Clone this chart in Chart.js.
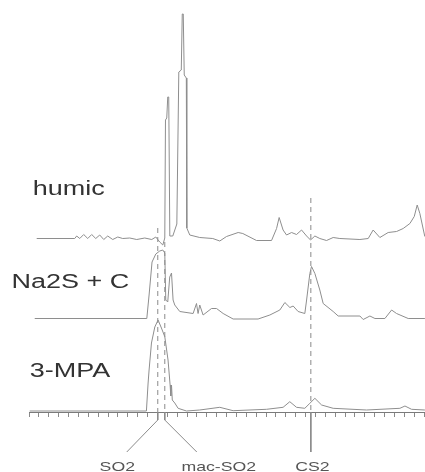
<!DOCTYPE html>
<html>
<head>
<meta charset="utf-8">
<script src="https://cdn.jsdelivr.net/npm/chart.js@4.4.1/dist/chart.umd.min.js"></script>
<style>
	html, body { margin: 0; padding: 0; background: #fff; }
	#wrap { width: 425px; height: 472px; position: relative; }
</style>
</head>
<body>
<div id="wrap"><canvas id="gcChart"></canvas></div>
<script>
// retention time (axis tick units) and signal above each trace's own baseline
const humicTime = [0.78, 4.63, 4.83, 5.14, 5.54, 5.95, 6.35, 6.76, 7.16, 7.57, 7.97, 8.48, 8.99, 9.49, 10.2, 10.91, 11.72, 12.43, 12.84, 13.24, 13.55, 13.75, 13.82, 13.95, 14.05, 14.15, 14.26, 14.56, 14.97, 15.17, 15.42, 15.52, 15.62, 15.72, 15.93, 15.98, 16.28, 17.29, 18.61, 19.32, 20.0, 21.18, 21.65, 23.04, 24.56, 25.07, 25.33, 25.73, 26.08, 26.59, 27.09, 27.6, 28.11, 28.51, 28.95, 29.45, 30.13, 30.8, 31.48, 33.51, 34.35, 34.85, 35.53, 36.37, 37.22, 37.89, 38.57, 39.01, 39.31, 39.58, 40.08];
const humicSignal = [0, 0, 2.5, 0, 4, 0, 4, 0, 3.5, -1, 2.5, -1, 1.5, 0, 0.5, -1, 0.5, -1, 1.5, -3.5, -6.5, 0.5, 118.5, 120.5, 141.5, 141.5, 2.5, 2.5, 14.5, 166.5, 168.5, 224.5, 224.5, 163.5, 160.5, 10.5, 3.5, 1, 0, -2.5, 2, 6, 5, -2, -2, 10, 21, 8.5, 3.5, 6, 4, 8.5, 2.5, -1.5, 2.5, 0, -2, 1, 0, -1, 0, 8.5, 1, 6, 7, 10, 15, 22, 33.5, 25, 2];

const na2sTime = [0.58, 11.93, 12.16, 12.46, 12.84, 13.24, 13.55, 13.75, 13.85, 14.05, 14.25, 14.43, 14.59, 14.76, 15.27, 16.62, 16.96, 17.12, 17.29, 17.63, 18.48, 18.99, 19.66, 20.67, 23.2, 24.39, 25.4, 25.91, 26.42, 26.75, 27.25, 27.93, 28.11, 28.44, 28.61, 28.95, 29.45, 29.79, 30.8, 31.31, 33.51, 33.84, 34.52, 35.03, 36.04, 36.72, 37.22, 38.4, 40.09];
const na2sSignal = [0, 0, 23.5, 56.5, 64.5, 67.5, 68.5, 65.5, 18.5, 16.5, 41.5, 45.5, 18.5, 13.5, 7, 5, 15, 5, 13.5, 3.5, 10, 10, 5, -0.5, -0.5, 3.5, 8.5, 16, 11, 12.5, 7, 5, 18.5, 45, 52, 45, 28.5, 15, 7, 2.5, 2.5, -1, 2.5, 0, 0, 8.5, 5, 0, 0];

const mpaTime = [0.07, 11.89, 12.06, 12.16, 12.4, 12.74, 13.07, 13.41, 13.75, 14.08, 14.29, 14.36, 14.43, 14.51, 14.76, 15.1, 15.95, 17.29, 19.32, 20.67, 24.05, 25.73, 26.41, 27.09, 27.93, 28.44, 28.95, 29.63, 30.8, 34.18, 37.56, 38.07, 38.74, 40.09];
const mpaSignal = [0, 0, 28, 41, 68, 84, 91, 83, 74.3, 51, 26, 15, 26, 11, 8, 2.7, 0, 1, 3.7, 0.3, 1.7, 3.7, 9.3, 3.7, 2.7, 7.7, 12.7, 6, 2.7, 1, 2.7, 5, 1.7, 1];

// vertical stacking of the three traces
const traceNames = ["humic", "Na2S + C", "3-MPA"];
const traceOffsets = [172.5, 92.5, 0];

// compound markers: retention time, top of dashed line, where the leader ends
const markerNames = ["SO2", "mac-SO2", "CS2"];
const markerTimes = [13.04, 13.75, 28.54];
const markerTops = [183, 169, 213];
const markerLabelTimes = [9.9, 16.99, 28.54];
const labelCentres = [8.94, 19.22, 28.69];

const xTicks = [];
for (let i = 0; i <= 40; i++) xTicks.push(i);

const TRACE_COL = "#8e8e8e";

function toPoints(times, vals, offset) {
	return times.map((t, i) => ({ x: t, y: vals[i] + offset }));
}

const datasets = [
	{ data: toPoints(humicTime, humicSignal, traceOffsets[0]) },
	{ data: toPoints(na2sTime, na2sSignal, traceOffsets[1]) },
	{ data: toPoints(mpaTime, mpaSignal, traceOffsets[2]) }
].map(d => Object.assign(d, { borderColor: TRACE_COL, borderWidth: 1, pointRadius: 0, tension: 0, fill: false }));

// dashed retention markers and the solid leaders under the axis
markerNames.forEach((name, i) => {
	datasets.push({
		data: [{ x: markerTimes[i], y: markerTops[i] }, { x: markerTimes[i], y: -1 }],
		borderColor: "#8a8a8a", borderWidth: 1, borderDash: [5, 4], pointRadius: 0, clip: false
	});
	const leader = [{ x: markerTimes[i], y: -1 }];
	if (markerLabelTimes[i] !== markerTimes[i]) leader.push({ x: markerTimes[i], y: -9 });
	leader.push({ x: markerLabelTimes[i], y: -41 });
	datasets.push({
		data: leader, borderColor: "#8a8a8a", borderWidth: 1, pointRadius: 0, tension: 0, clip: false
	});
});

// draw the text, stretched sideways like the scanned original
const textPlugin = {
	id: "textPlugin",
	afterDraw(chart) {
		const ctx = chart.ctx;
		const xs = chart.scales.x, ys = chart.scales.y;
		const put = (txt, x, y, font, col, align, sx) => {
			ctx.save();
			ctx.translate(xs.getPixelForValue(x), ys.getPixelForValue(y));
			ctx.scale(sx, 1);
			ctx.font = font;
			ctx.fillStyle = col;
			ctx.textAlign = align;
			ctx.textBaseline = "alphabetic";
			ctx.fillText(txt, 0, 0);
			ctx.restore();
		};
		const nameX = [0.37, -1.78, 0.07];
		const nameY = [216, 122.7, 34.3];
		traceNames.forEach((n, i) => put(n, nameX[i], nameY[i], "20px 'Liberation Sans', Arial", "#333", "left", 1.35));
		markerNames.forEach((n, i) => put(n, labelCentres[i], -60, "13px 'Liberation Sans', Arial", "#555", "center", 1.36));
	}
};

new Chart(document.getElementById("gcChart"), {
	type: "line",
	data: { datasets: datasets },
	options: {
		responsive: true,
		maintainAspectRatio: false,
		animation: false,
		layout: { padding: { left: 29, right: 0, top: 0, bottom: 0 } },
		plugins: { legend: { display: false }, tooltip: { enabled: false } },
		scales: {
			x: {
				type: "linear",
				min: 0,
				max: 40.1,
				position: { y: -1 },
				afterBuildTicks: s => { s.ticks = xTicks.map(v => ({ value: v })); },
				ticks: { display: false },
				grid: { drawOnChartArea: false, drawTicks: true, tickLength: 4, color: "#8a8a8a" },
				border: { display: true, color: "#7a7a7a", width: 1 }
			},
			y: {
				type: "linear",
				min: -61,
				max: 411,
				display: false
			}
		}
	},
	plugins: [textPlugin]
});
</script>
</body>
</html>
